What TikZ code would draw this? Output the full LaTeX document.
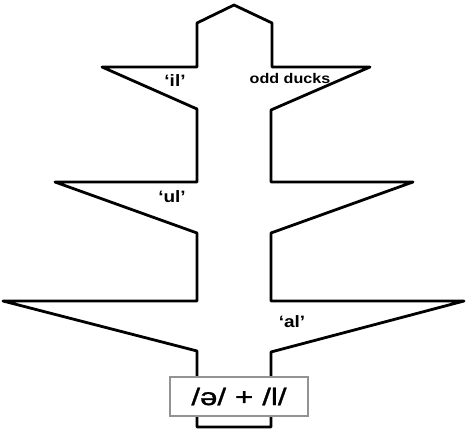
\documentclass[tikz,border=0pt]{standalone}
\usepackage{fontspec}
\setmainfont{Liberation Sans}
\newfontfamily\labfont[FakeStretch=1.15]{Liberation Sans Bold}
\newfontfamily\boxfont[FakeStretch=1.3,FakeBold=1.3]{Liberation Sans}
\begin{document}
\begin{tikzpicture}[x=1pt,y=-1pt,
  outline/.style={line width=2.8pt,line join=round,black},
  lab/.style={font=\labfont\fontsize{16.5}{16.5}\selectfont,inner sep=0pt},
  smalllab/.style={font=\labfont\fontsize{14}{14}\selectfont,inner sep=0pt},
  formbox/.style={draw=gray!85,fill=white,line width=1.5pt,minimum width=138pt,minimum height=39pt,inner sep=0pt,font=\boxfont\fontsize{24}{24}\selectfont}]
\useasboundingbox (0,0) rectangle (467,430);
\draw[outline] (197,427) -- (197,351) -- (3,301) -- (197,301) -- (197,233)
  -- (55,182) -- (197,182) -- (197,109) -- (102,67) -- (197,67) -- (197,23)
  -- (234,5) -- (272,23) -- (272,67) -- (370,67) -- (271,110) -- (271,182)
  -- (413,182) -- (271,233) -- (271,301) -- (464,301) -- (271,352) -- (271,427) -- cycle;
\node[formbox] (form) at (239,396.5) {/ə/\hspace{9pt}+\hspace{9pt}/l/};
\node[lab] (il) at (175,81) {‘il’};
\node[smalllab] (odd) at (290,78) {odd ducks};
\node[lab] (ul) at (172,197) {‘ul’};
\node[lab] (al) at (292,322) {‘al’};
\end{tikzpicture}
\end{document}
